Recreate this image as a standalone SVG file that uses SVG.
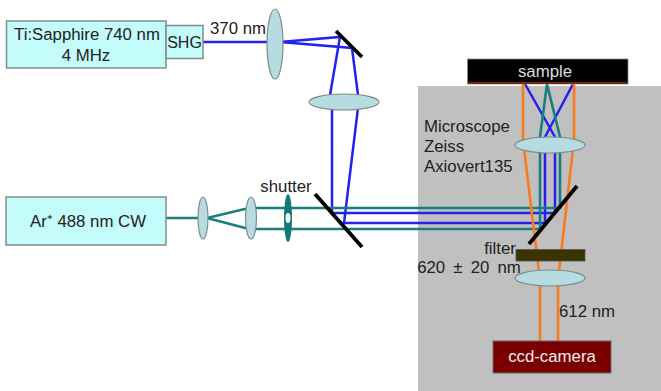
<svg xmlns="http://www.w3.org/2000/svg" width="661" height="391" viewBox="0 0 661 391">
<style>
text{font-family:"Liberation Sans",Arial,sans-serif;font-size:16.800px;fill:#222;text-anchor:middle}
.box{fill:#c4fbfb;stroke:#7f8c8c;stroke-width:1.5}
.lens{fill:#b6dbe0;stroke:#7f8c8c;stroke-width:1.2}
.b{stroke:#2222f0;stroke-width:2.500;fill:none}
.t{stroke:#197f7c;stroke-width:2.600;fill:none}
.o{stroke:#fb7a1c;stroke-width:2.600;fill:none}
.m{stroke:#000;stroke-width:3.800;fill:none}
</style>
<rect id="microscope-area" x="418" y="86" width="243" height="305" fill="#c0c0c0"/>
<g id="connectors">
<path class="b" d="M203 42H270M280 42L340 37L330 95M280 42L352 48L358 95M332 108V213H555V137M358 108L344 223H545V137M545 137L573 84M555 137L525 84"/>
<path class="t" d="M166 218H200M207 218L249 208M207 218L249 229M249 208H560V137L547 84L540 137V229H249"/>
<path class="o" d="M523 84V140L540 280V341M574 84V140L558 280V341"/>
</g>
<g id="ti-sapphire"><rect class="box" x="6.500" y="21" width="159.500" height="47"/><text x="87" y="40">Ti:Sapphire 740 nm</text><text x="86" y="61">4 MHz</text></g>
<g id="shg"><rect class="box" x="166" y="25.500" width="37" height="33"/><text x="184.500" y="48" style="font-size:16px">SHG</text></g>
<g id="label-370"><text x="238" y="34">370 nm</text></g>
<g id="lens-1"><ellipse class="lens" cx="275" cy="44" rx="8" ry="35"/></g>
<g id="mirror-1"><path class="m" d="M336 31L362 57"/></g>
<g id="lens-2"><ellipse class="lens" cx="344" cy="102" rx="35" ry="8"/></g>
<g id="argon"><rect class="box" x="6" y="197" width="160" height="48"/><text x="88" y="227">Ar⁺ 488 nm CW</text></g>
<g id="lens-3"><ellipse class="lens" cx="203" cy="218" rx="5" ry="21"/></g>
<g id="lens-4"><ellipse class="lens" cx="251" cy="218" rx="5.500" ry="21"/></g>
<g id="shutter"><ellipse cx="288" cy="218" rx="4" ry="24" fill="#0f7a78"/><ellipse cx="288" cy="218" rx="2.500" ry="5" fill="#fff"/><text x="286" y="192">shutter</text></g>
<g id="mirror-2"><path class="m" d="M315 194L362 247"/></g>
<g id="sample"><rect x="467.500" y="59" width="160.500" height="25" fill="#000" stroke="#8a8a8a" stroke-width=".8"/><path d="M468 83H627" stroke="#7a2a00" stroke-width="2"/><text x="545" y="77" style="fill:#ddd">sample</text></g>
<g id="lens-5"><ellipse class="lens" cx="550" cy="145" rx="35" ry="8"/></g>
<g id="microscope-label"><text x="424" y="132" style="text-anchor:start">Microscope</text><text x="424" y="152" style="text-anchor:start">Zeiss</text><text x="424" y="172" style="text-anchor:start">Axiovert135</text></g>
<g id="mirror-3"><path class="m" d="M529 244L577 186"/></g>
<g id="filter"><rect x="516" y="249.500" width="69" height="11.500" fill="#3a3500" stroke="#555" stroke-width=".8"/><text x="500" y="254">filter</text><text x="469" y="273" style="word-spacing:3.500px">620 ± 20 nm</text></g>
<g id="lens-6"><ellipse class="lens" cx="550" cy="278" rx="35" ry="8"/></g>
<g id="label-612"><text x="587" y="317">612 nm</text></g>
<g id="ccd"><rect x="493" y="341" width="118" height="32" fill="#7a0000" stroke="#666" stroke-width="1"/><text x="552" y="362" style="fill:#eee">ccd-camera</text></g>
</svg>
